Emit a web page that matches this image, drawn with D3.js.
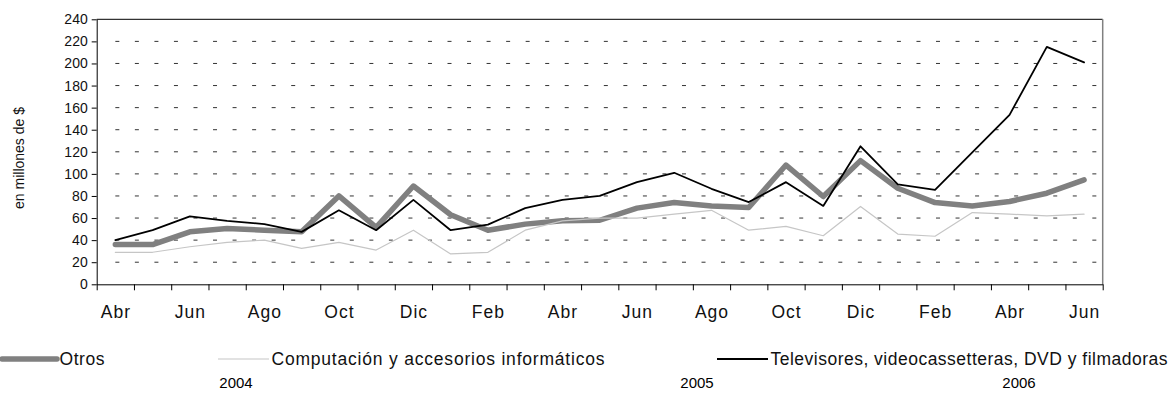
<!DOCTYPE html>
<html>
<head>
<meta charset="utf-8">
<script src="https://cdn.jsdelivr.net/npm/d3@7"></script>
<style>
  body { margin: 0; background: #fff; }
  svg { display: block; font-family: "Liberation Sans", Arial, sans-serif; }
</style>
</head>
<body>
<svg id="chart"></svg>
<script>
// meses abr 2004 - jun 2006
var meses = ["Abr","May","Jun","Jul","Ago","Sep","Oct","Nov","Dic","Ene","Feb","Mar",
             "Abr","May","Jun","Jul","Ago","Sep","Oct","Nov","Dic","Ene","Feb","Mar",
             "Abr","May","Jun"];
var anios = ["2004", "2005", "2006"];
var yTicks = [0,20,40,60,80,100,120,140,160,180,200,220,240];

var otros = [36, 36, 47.5, 50.5, 49, 47.5, 80, 51.5, 89, 63, 49, 54.5,
             57.5, 58, 69, 74, 71, 69.5, 108, 79.5, 112, 87, 74, 71, 75, 82.5, 94.5];
var computacion = [29, 29, 34, 38, 40, 32.5, 38, 31, 49, 27.5, 29, 49,
                   57.5, 60, 60, 63.5, 67, 49, 52.5, 44, 70.5, 45.5, 43.5, 65, 63.5, 62, 63.5];
var televisores = [40, 49, 61.5, 57.5, 54.5, 47.5, 67, 49, 76.5, 49, 54, 69,
                   76.5, 80, 92.5, 101, 86.5, 74.5, 92.5, 71, 125, 90.5, 85.5, 119.5, 153.5, 215, 201];

var series = [
  { nombre: "Otros", valores: otros, color: "#808080", ancho: 5.5 },
  { nombre: "Computación y accesorios  informáticos", valores: computacion, color: "#c6c6c6", ancho: 1.2 },
  { nombre: "Televisores, videocassetteras, DVD y filmadoras", valores: televisores, color: "#000", ancho: 1.8 }
];

var width = 1173, height = 416;
var plotL = 96.7, plotR = 1102.7, plotT = 19.3, plotB = 284.3;

var svg = d3.select("#chart")
    .attr("width", width)
    .attr("height", height);

var x = d3.scaleLinear().domain([0, meses.length]).range([plotL, plotR]);
var y = d3.scaleLinear().domain([0, 240]).range([plotB, plotT]);

// lineas de grilla punteadas
svg.append("g")
  .selectAll("line")
  .data(yTicks.filter(function(d) { return d > 0 && d < 240; }))
  .enter().append("line")
    .attr("x1", x(0.5))
    .attr("x2", plotR)
    .attr("y1", function(d) { return y(d); })
    .attr("y2", function(d) { return y(d); })
    .attr("stroke", "#333")
    .attr("stroke-width", 1)
    .attr("stroke-dasharray", "4,15.54");

// borde superior y derecho
svg.append("line")
    .attr("x1", plotL).attr("x2", plotR)
    .attr("y1", y(240)).attr("y2", y(240))
    .attr("stroke", "#000");
svg.append("line")
    .attr("x1", plotR).attr("x2", plotR)
    .attr("y1", y(240)).attr("y2", y(0))
    .attr("stroke", "#808080")
    .attr("stroke-width", 1.5);

// eje y
var yAxis = svg.append("g")
    .attr("transform", "translate(" + plotL + ",0)")
    .call(d3.axisLeft(y).tickValues(yTicks).tickSize(5).tickPadding(4).tickSizeOuter(0));
yAxis.selectAll("text").attr("font-size", 14).attr("fill", "#111").attr("font-family", null);
yAxis.selectAll("line, path").attr("stroke", "#000");

// eje x: marcas entre meses
var xTicks = svg.append("g")
    .attr("transform", "translate(0," + plotB + ")")
    .call(d3.axisBottom(x).tickValues(d3.range(0, meses.length + 1)).tickSize(6).tickFormat("").tickSizeOuter(0));
xTicks.selectAll("line, path").attr("stroke", "#000");

// etiquetas de meses cada dos
var xLabels = svg.append("g")
    .attr("transform", "translate(0," + plotB + ")")
    .call(d3.axisBottom(x)
      .tickValues(d3.range(0, meses.length, 2).map(function(i) { return i + 0.5; }))
      .tickFormat(function(d) { return meses[Math.floor(d)]; })
      .tickSize(0));
xLabels.select(".domain").remove();
xLabels.selectAll("text")
    .attr("y", 27.4)
    .attr("dy", "0.35em")
    .attr("font-size", 17.5)
    .attr("font-family", null)
    .attr("letter-spacing", 1)
    .attr("fill", "#111");

// series
var line = d3.line()
    .x(function(d, i) { return x(i + 0.5); })
    .y(function(d) { return y(d); });

svg.append("g")
  .selectAll("path")
  .data(series)
  .enter().append("path")
    .attr("d", function(s) { return line(s.valores); })
    .attr("fill", "none")
    .attr("stroke", function(s) { return s.color; })
    .attr("stroke-width", function(s) { return s.ancho; })
    .attr("stroke-linejoin", "round")
    .attr("stroke-linecap", "round");

// titulo eje y
svg.append("text")
    .attr("transform", "translate(19.5,158) rotate(-90)")
    .attr("text-anchor", "middle")
    .attr("dy", "0.35em")
    .attr("font-size", 14)
    .attr("fill", "#111")
    .text("en millones de $");

// leyenda
var legY = 359;
var legX = [2, 218, 717];
var legLen = [55, 51, 51];
var legText = [45, 333, 397];
var leg = svg.append("g")
  .selectAll("g")
  .data(series)
  .enter().append("g");
leg.append("line")
    .attr("x1", function(s, i) { return legX[i]; })
    .attr("x2", function(s, i) { return legX[i] + legLen[i]; })
    .attr("y1", legY).attr("y2", legY)
    .attr("stroke", function(s) { return s.color; })
    .attr("stroke-width", function(s) { return s.ancho; })
    .attr("stroke-linecap", function(s, i) { return i == 0 ? "round" : "butt"; });
leg.append("text")
    .attr("x", function(s, i) { return legX[i] + legLen[i] + 2.5; })
    .attr("y", legY)
    .attr("dy", "0.35em")
    .attr("font-size", 17.5)
    .attr("fill", "#111")
    .attr("textLength", function(s, i) { return legText[i]; })
    .attr("lengthAdjust", "spacing")
    .text(function(s) { return s.nombre; });

// anios
var anioX = [236, 697, 1019];
svg.append("g")
  .selectAll("text")
  .data(anios)
  .enter().append("text")
    .attr("x", function(d, i) { return anioX[i]; })
    .attr("y", 383)
    .attr("dy", "0.35em")
    .attr("text-anchor", "middle")
    .attr("font-size", 15)
    .attr("font-family", "'Liberation Sans Narrow', 'Arial Narrow', sans-serif")
    .attr("fill", "#000")
    .text(function(d) { return d; });
</script>
</body>
</html>
